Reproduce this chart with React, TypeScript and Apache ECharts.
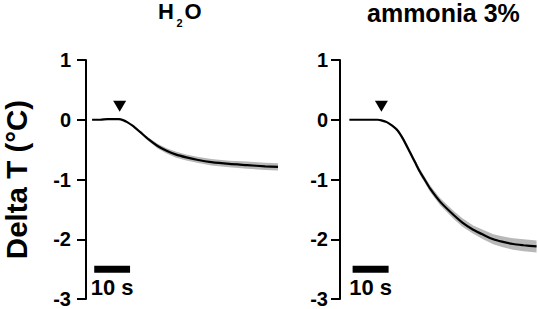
import React, { useEffect, useRef } from "react";
import * as echarts from "echarts";

// Time (s) and mean temperature change (°C) with half band width (SEM)
const leftTime = [1.7, 4, 6, 8, 9.2, 10.5, 11.5, 13, 15, 17.5, 20, 22.5, 25, 28, 31, 35, 40, 45, 50, 53.6];
const leftMean = [0.0, 0.0, 0.01, 0.01, 0.01, -0.01, -0.04, -0.1, -0.2, -0.33, -0.44, -0.52, -0.58, -0.63, -0.67, -0.71, -0.74, -0.76, -0.78, -0.79];
const leftSem = [0.005, 0.005, 0.005, 0.005, 0.005, 0.005, 0.008, 0.01, 0.02, 0.03, 0.04, 0.045, 0.05, 0.05, 0.05, 0.055, 0.055, 0.06, 0.06, 0.06];

const rightTime = [2.6, 5, 8, 10.5, 11.5, 13, 14.5, 16, 17.5, 19.4, 21, 22.2, 23.5, 25, 27.8, 31.5, 34, 37, 40, 42.6, 45, 48.1, 51, 54.6];
const rightMean = [0.0, 0.0, 0.0, 0.0, -0.01, -0.04, -0.1, -0.18, -0.32, -0.54, -0.73, -0.87, -1.0, -1.15, -1.37, -1.59, -1.72, -1.84, -1.93, -2.0, -2.04, -2.08, -2.1, -2.12];
const rightSem = [0.005, 0.005, 0.005, 0.005, 0.008, 0.01, 0.015, 0.02, 0.03, 0.04, 0.045, 0.05, 0.05, 0.055, 0.06, 0.065, 0.07, 0.07, 0.08, 0.085, 0.09, 0.095, 0.1, 0.1];

// Stimulus arrowheads [time, value]
const leftArrow = [9.4, 0.225];
const rightArrow = [11.5, 0.225];

// Scale bars (10 s) [start, end] in s, drawn at this value
const leftScaleBar = [2.3, 12.3];
const rightScaleBar = [3.5, 13.5];
const scaleBarValue = -2.5;
const scaleBarLabel = "10 s";

const yTicks = { min: -3, max: 1, interval: 1 };
const titles = ["H", "2", "O", "ammonia 3%"];
const yName = "Delta T (°C)";

const FONT = "'Liberation Sans', Arial, sans-serif";

function bandSeries(times: number[], mean: number[], sem: number[], idx: number) {
  return {
    type: "custom",
    xAxisIndex: idx,
    yAxisIndex: idx,
    silent: true,
    z: 1,
    data: [[times[0], mean[0]]],
    renderItem: (_params: any, api: any) => {
      const upper = times.map((t, i) => api.coord([t, mean[i] + sem[i]]));
      const lower = times.map((t, i) => api.coord([t, mean[i] - sem[i]])).reverse();
      return {
        type: "polygon",
        shape: { points: upper.concat(lower) },
        style: { fill: "#b8b8b8" },
      };
    },
  };
}

function lineSeries(times: number[], mean: number[], idx: number) {
  return {
    type: "line",
    xAxisIndex: idx,
    yAxisIndex: idx,
    data: times.map((t, i) => [t, mean[i]]),
    showSymbol: false,
    symbol: "none",
    smooth: 0.25,
    lineStyle: { color: "#000", width: 2.2 },
    z: 3,
  };
}

function arrowSeries(p: number[], idx: number) {
  return {
    type: "scatter",
    xAxisIndex: idx,
    yAxisIndex: idx,
    data: [p],
    symbol: "triangle",
    symbolRotate: 180,
    symbolSize: [13, 11],
    itemStyle: { color: "#000", opacity: 1 },
    z: 4,
  };
}

function scaleBarSeries(bar: number[], idx: number) {
  return [
    {
      type: "line",
      xAxisIndex: idx,
      yAxisIndex: idx,
      data: [
        [bar[0], scaleBarValue],
        [bar[1], scaleBarValue],
      ],
      symbol: "none",
      lineStyle: { color: "#000", width: 7, cap: "butt" },
      z: 4,
    },
    {
      type: "scatter",
      xAxisIndex: idx,
      yAxisIndex: idx,
      data: [[(bar[0] + bar[1]) / 2, scaleBarValue]],
      symbolSize: 0,
      itemStyle: { opacity: 1 },
      label: {
        show: true,
        position: "inside",
        offset: [0, 18],
        formatter: scaleBarLabel,
        fontFamily: FONT,
        fontWeight: "bold",
        fontSize: 22,
        color: "#000",
      },
      z: 4,
    },
  ];
}

function yAxis(gridIndex: number, margin: number, withName: boolean) {
  return {
    type: "value",
    gridIndex,
    min: yTicks.min,
    max: yTicks.max,
    interval: yTicks.interval,
    name: withName ? yName : "",
    nameLocation: "middle",
    nameGap: 55,
    nameTextStyle: { fontFamily: FONT, fontWeight: "bold", fontSize: 29.5, color: "#000" },
    axisLine: { show: true, lineStyle: { color: "#000", width: 2 } },
    axisTick: { show: true, inside: false, length: 9, lineStyle: { color: "#000", width: 2 } },
    axisLabel: { fontFamily: FONT, fontWeight: "bold", fontSize: 20, color: "#000", margin },
    splitLine: { show: false },
  };
}

export default function App() {
  const ref = useRef<HTMLDivElement>(null);
  useEffect(() => {
    if (!ref.current) return;
    const chart = echarts.init(ref.current, null, { renderer: "svg" });
    chart.setOption({
      animation: false,
      backgroundColor: "#fff",
      grid: [
        { left: 85, top: 60, width: 194.4, height: 240 },
        { left: 340, top: 60, width: 198, height: 240 },
      ],
      xAxis: [
        { type: "value", gridIndex: 0, min: 0, max: 54, show: false },
        { type: "value", gridIndex: 1, min: 0, max: 55, show: false },
      ],
      yAxis: [yAxis(0, 15, true), yAxis(1, 12, false)],
      graphic: [
        {
          type: "text",
          x: 158,
          y: 11.5,
          style: { text: titles[0], font: `bold 22px ${FONT}`, fill: "#000", verticalAlign: "middle", lineHeight: 20 },
        },
        {
          type: "text",
          x: 176.5,
          y: 23.2,
          style: { text: titles[1], font: `bold 11px ${FONT}`, fill: "#000", verticalAlign: "middle", lineHeight: 11 },
        },
        {
          type: "text",
          x: 184.5,
          y: 11.5,
          style: { text: titles[2], font: `bold 22px ${FONT}`, fill: "#000", verticalAlign: "middle", lineHeight: 20 },
        },
        {
          type: "text",
          x: 367,
          y: 12.5,
          style: { text: titles[3], font: `bold 25px ${FONT}`, fill: "#000", verticalAlign: "middle", lineHeight: 20 },
        },
      ],
      series: [
        bandSeries(leftTime, leftMean, leftSem, 0),
        lineSeries(leftTime, leftMean, 0),
        arrowSeries(leftArrow, 0),
        ...scaleBarSeries(leftScaleBar, 0),
        bandSeries(rightTime, rightMean, rightSem, 1),
        lineSeries(rightTime, rightMean, 1),
        arrowSeries(rightArrow, 1),
        ...scaleBarSeries(rightScaleBar, 1),
      ],
    });
    return () => chart.dispose();
  }, []);
  return (
    <div
      ref={ref}
      style={{ position: "absolute", left: 0, top: 0, width: 538, height: 309, background: "#fff" }}
    />
  );
}
